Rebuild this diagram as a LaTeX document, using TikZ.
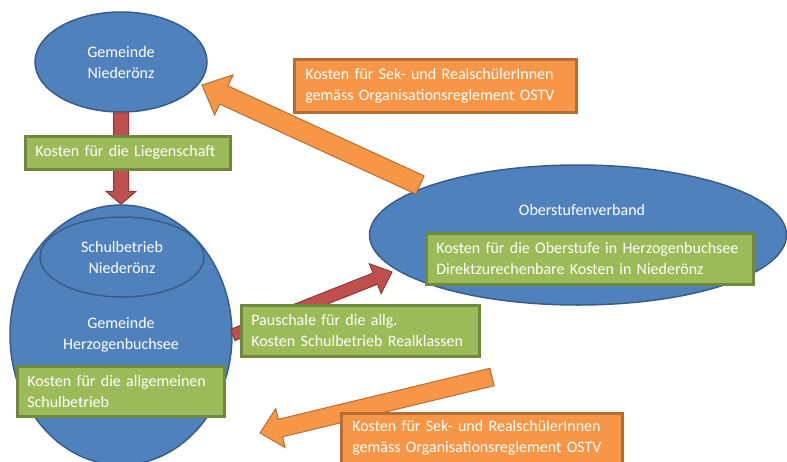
\documentclass[tikz,border=0pt]{standalone}
\usepackage{fontspec}
\setmainfont{Carlito}
\usepackage{tikz}
\usetikzlibrary{shapes.geometric}
\usetikzlibrary{calc}

\definecolor{ovalblue}{HTML}{4F81BD}
\definecolor{ovalline}{HTML}{385D8A}
\definecolor{boxgreen}{HTML}{9BBB59}
\definecolor{greenline}{HTML}{71893F}
\definecolor{boxorange}{HTML}{F79646}
\definecolor{orangeline}{HTML}{B66D31}
\definecolor{arrowred}{HTML}{C0504D}
\definecolor{redline}{HTML}{8C3836}

% block arrow: style, from, to, half shaft, half head, head length
\newcommand{\blockarrow}[6]{
  \coordinate (ah) at ($(#3)!#6!(#2)$);
  \filldraw[#1]
    ($(#2)!#4!90:(#3)$) -- ($(ah)!#4!90:(#3)$) -- ($(ah)!#5!90:(#3)$)
    -- (#3)
    -- ($(ah)!#5!-90:(#3)$) -- ($(ah)!#4!-90:(#3)$) -- ($(#2)!#4!-90:(#3)$)
    -- cycle;
}

\begin{document}
\begin{tikzpicture}[x=1pt,y=-1pt,
  every node/.style={font=\fontsize{16}{21}\selectfont,text=white},
  oval/.style={ellipse,draw=ovalline,fill=ovalblue,line width=1.5pt,inner sep=0pt,align=center},
  greenbox/.style={draw=greenline,fill=boxgreen,line width=2.5pt,inner xsep=10pt,inner ysep=0pt,align=left,anchor=north west},
  orangebox/.style={draw=orangeline,fill=boxorange,line width=2.5pt,inner xsep=11pt,inner ysep=0pt,align=left,anchor=north west},
  redarrow/.style={draw=redline,fill=arrowred,line width=1pt,line join=miter},
  orangearrow/.style={draw=orangeline,fill=boxorange,line width=1pt,line join=miter}]
  \clip (0,0) rectangle (787,461);

  \node[oval,minimum width=172pt,minimum height=100pt] (niederoenz) at (121,62) {Gemeinde\\Niederönz};
  \node[oval,minimum width=222pt,minimum height=260pt] (herzogenbuchsee) at (121,335) {Gemeinde\\Herzogenbuchsee};
  \node[oval,minimum width=164pt,minimum height=80pt] (schulbetrieb) at (122,257) {Schulbetrieb\\Niederönz};
  \node[oval,minimum width=417pt,minimum height=140pt] (ostv) at (578,235) {};
  \node (ostvtitle) at (582,210) {Oberstufenverband};

  \coordinate (pauschaletip) at (392,272);
  \coordinate (sektail) at (420,185);
  \coordinate (sektip) at (202,85);
  \coordinate (realtail) at (492,377);
  \coordinate (realtip) at (260,433);

  \blockarrow{redarrow}{niederoenz.south}{herzogenbuchsee.north}{7.5pt}{15pt}{13pt}
  \blockarrow{redarrow}{herzogenbuchsee.east}{pauschaletip}{6pt}{16pt}{18pt}
  \blockarrow{orangearrow}{sektail}{sektip}{10pt}{22pt}{24pt}
  \blockarrow{orangearrow}{realtail}{realtip}{9pt}{20pt}{21pt}

  \node[greenbox,text width=185pt,minimum height=33pt] (liegenschaft) at (24,135) {Kosten für die Liegenschaft};
  \node[greenbox,text width=187pt,minimum height=50pt] (allgemein) at (16,365) {Kosten für die allgemeinen\\Schulbetrieb};
  \node[greenbox,text width=218pt,minimum height=51pt] (pauschale) at (240,304) {Pauschale für die allg.\\Kosten Schulbetrieb Realklassen};
  \node[greenbox,text width=307pt,minimum height=51pt] (oberstufe) at (425,232) {Kosten für die Oberstufe in Herzogenbuchsee\\Direktzurechenbare Kosten in Niederönz};
  \node[orangebox,text width=260pt,minimum height=53pt] (sekoben) at (293,58) {Kosten für Sek- und RealschülerInnen\\gemäss Organisationsreglement OSTV};
  \node[orangebox,text width=259pt,minimum height=50pt] (sekunten) at (340,412) {Kosten für Sek- und RealschülerInnen\\gemäss Organisationsreglement OSTV};
\end{tikzpicture}
\end{document}
